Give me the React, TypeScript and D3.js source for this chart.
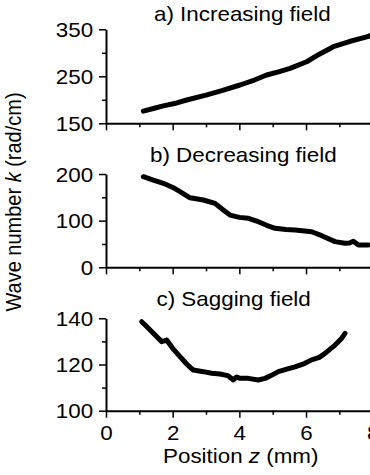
import React, { useEffect, useRef } from 'react';
import * as d3 from 'd3';

// Position z (mm) / wave number k (rad/cm)
const increasingZ = [1.12, 1.45, 1.72, 2.05, 2.42, 3.0, 3.5, 4.02, 4.45, 4.82, 5.2, 5.52, 6.02, 6.4, 6.82, 7.3, 7.82, 7.95];
const increasingK = [176, 182, 187, 192, 199.6, 210, 220, 231.5, 242, 252.8, 260, 267, 281, 297, 313, 324, 334, 337];

const decreasingZ = [1.12, 1.42, 1.72, 2.02, 2.27, 2.52, 2.92, 3.27, 3.52, 3.72, 4.0, 4.27, 4.57, 4.82, 5.07, 5.4, 5.67, 6.17, 6.47, 6.87, 7.17, 7.3, 7.42, 7.57, 7.87];
const decreasingK = [194.2, 187, 180, 170.6, 160, 149, 144.3, 137, 122.8, 112, 107, 105, 97.7, 90, 83.6, 81, 80, 76.3, 67.8, 55, 51.5, 52, 56, 48, 48];

const saggingZ = [1.07, 1.25, 1.42, 1.67, 1.82, 2.0, 2.22, 2.42, 2.62, 2.92, 3.17, 3.42, 3.65, 3.82, 3.92, 4.02, 4.27, 4.57, 4.77, 4.95, 5.17, 5.45, 5.67, 5.95, 6.17, 6.4, 6.57, 6.87, 7.05, 7.17];
const saggingK = [138.5, 136, 133.5, 129.9, 130.6, 127, 123.4, 120.2, 117.6, 116.9, 116.2, 115.9, 115.2, 113.3, 114.6, 114, 114, 113.3, 114, 115.2, 116.9, 118.1, 119, 120.4, 122, 123.1, 124.8, 128.4, 131, 133.5];

const panelTitles = ['a) Increasing field', 'b) Decreasing field', 'c) Sagging field'];
const yDomains: [number, number][] = [[150, 350], [0, 200], [100, 140]];
const yMajorTicks = [[150, 250, 350], [0, 100, 200], [100, 120, 140]];
const yMinorTicks = [[200, 300], [50, 150], [110, 130]];
const xMajorTicks = [0, 2, 4, 6, 8];
const xMinorTicks = [1, 3, 5, 7];

const FONT = '"Liberation Sans", Arial, Helvetica, sans-serif';
const STRETCH = 1.12;

const App: React.FC = () => {
  const svgRef = useRef<SVGSVGElement>(null);
  const width = 370;
  const height = 475;

  useEffect(() => {
    if (!svgRef.current) return;
    const svg = d3.select(svgRef.current);
    svg.selectAll('*').remove();

    const xScale = d3.scaleLinear().domain([0, 8]).range([106, 372.7]);

    // vertical placement of each panel: [bottom, top] in pixels
    const panelRanges: [number, number][] = [[123.3, 29.3], [267.3, 174], [410.7, 318.3]];
    const titlePos = [[154, 20.7], [150, 161.5], [156.5, 306.4]];
    const series = [
      { z: increasingZ, k: increasingK },
      { z: decreasingZ, k: decreasingK },
      { z: saggingZ, k: saggingK }
    ];

    panelRanges.forEach((range, i) => {
      const yScale = d3.scaleLinear().domain(yDomains[i]).range(range);
      const g = svg.append('g');

      // data line
      const pts: [number, number][] = series[i].z.map((z, j) => [z, series[i].k[j]]);
      const line = d3.line<[number, number]>()
        .x(d => xScale(d[0]))
        .y(d => yScale(d[1]))
        .curve(d3.curveLinear);
      g.append('path')
        .datum(pts)
        .attr('d', line)
        .attr('fill', 'none')
        .attr('stroke', '#000')
        .attr('stroke-width', 5)
        .attr('stroke-linecap', 'round')
        .attr('stroke-linejoin', 'round');

      // y axis
      const yAx = g.append('g')
        .attr('transform', `translate(${xScale(0)},0)`)
        .call(d3.axisLeft(yScale).tickValues(yMajorTicks[i]).tickSize(7).tickSizeOuter(0));
      yAx.select('.domain').attr('stroke-width', 2);
      yAx.selectAll('.tick line').attr('stroke-width', 1.5);
      yAx.selectAll('.tick text')
        .attr('x', -11.5)
        .attr('dy', '0.36em')
        .attr('transform', `scale(${STRETCH},1)`)
        .style('font-family', FONT)
        .style('font-size', '20px')
        .attr('fill', '#000');

      g.append('g')
        .attr('transform', `translate(${xScale(0)},0)`)
        .call(d3.axisLeft(yScale).tickValues(yMinorTicks[i]).tickSize(4).tickSizeOuter(0).tickFormat(() => ''))
        .call(a => a.select('.domain').remove())
        .selectAll('.tick line').attr('stroke-width', 1.5);

      // x axis
      const xAx = g.append('g')
        .attr('transform', `translate(0,${range[0]})`)
        .call(d3.axisBottom(xScale).tickValues(xMajorTicks).tickSize(7).tickSizeOuter(0));
      xAx.select('.domain').attr('stroke-width', 2);
      xAx.selectAll('.tick line').attr('stroke-width', 1.5);
      if (i === 2) {
        xAx.selectAll('.tick text')
          .attr('y', 29.3)
          .attr('dy', 0)
          .attr('transform', `scale(${STRETCH},1)`)
          .style('font-family', FONT)
          .style('font-size', '20px')
          .attr('fill', '#000');
      } else {
        xAx.selectAll('.tick text').remove();
      }

      g.append('g')
        .attr('transform', `translate(0,${range[0]})`)
        .call(d3.axisBottom(xScale).tickValues(xMinorTicks).tickSize(4).tickSizeOuter(0).tickFormat(() => ''))
        .call(a => a.select('.domain').remove())
        .selectAll('.tick line').attr('stroke-width', 1.5);

      // panel title
      svg.append('text')
        .attr('transform', `translate(${titlePos[i][0]},${titlePos[i][1]}) scale(${STRETCH},1)`)
        .style('font-family', FONT)
        .style('font-size', '20px')
        .attr('fill', '#000')
        .text(panelTitles[i]);
    });

    // x axis title
    const xt = svg.append('text')
      .attr('transform', `translate(163,463) scale(${STRETCH},1)`)
      .style('font-family', FONT)
      .style('font-size', '20px')
      .attr('fill', '#000');
    xt.append('tspan').text('Position ');
    xt.append('tspan').style('font-style', 'italic').text('z');
    xt.append('tspan').text(' (mm)');

    // y axis title
    const yt = svg.append('text')
      .attr('transform', `translate(21,202) rotate(-90) scale(1,${STRETCH})`)
      .attr('text-anchor', 'middle')
      .style('font-family', FONT)
      .style('font-size', '20px')
      .attr('fill', '#000');
    yt.append('tspan').text('Wave number ');
    yt.append('tspan').style('font-style', 'italic').text('k');
    yt.append('tspan').text(' (rad/cm)');
  }, []);

  return (
    <svg
      ref={svgRef}
      width={width}
      height={height}
      style={{ position: 'absolute', left: 0, top: 0, background: '#fff' }}
    />
  );
};

export default App;
